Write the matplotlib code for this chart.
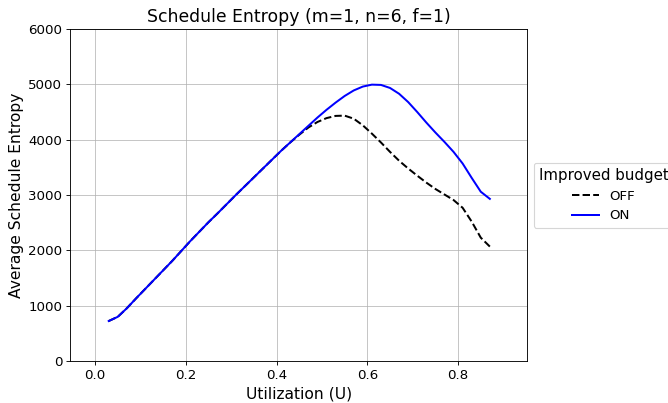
import matplotlib
matplotlib.use('Agg')
import matplotlib.pyplot as plt

# utilization samples
util = [0.03, 0.05, 0.07, 0.09, 0.11, 0.13, 0.15, 0.17, 0.19, 0.21, 0.23, 0.25,
        0.27, 0.29, 0.31, 0.33, 0.35, 0.37, 0.39, 0.41, 0.43, 0.45, 0.47, 0.49,
        0.51, 0.53, 0.55, 0.57, 0.59, 0.61, 0.63, 0.65, 0.67, 0.69, 0.71, 0.73,
        0.75, 0.77, 0.79, 0.81, 0.83, 0.85, 0.87]

entropy_on = [724, 800, 955, 1130, 1300, 1470, 1640, 1810, 1990, 2170, 2340, 2510,
              2670, 2835, 3000, 3160, 3320, 3480, 3640, 3800, 3950, 4100, 4250, 4400,
              4540, 4670, 4790, 4890, 4960, 4995, 4990, 4935, 4830, 4680, 4500, 4310,
              4130, 3960, 3780, 3570, 3310, 3060, 2931]

entropy_off = [724, 800, 955, 1130, 1300, 1470, 1640, 1810, 1990, 2170, 2340, 2510,
               2670, 2835, 3000, 3160, 3320, 3480, 3640, 3800, 3950, 4090, 4220, 4320,
               4390, 4430, 4435, 4380, 4260, 4110, 3950, 3780, 3620, 3480, 3350, 3225,
               3110, 3010, 2910, 2770, 2520, 2230, 2069]

fig = plt.figure(figsize=(8.35, 5.0375), dpi=80)
ax = fig.add_axes([0.105, 0.104, 0.684, 0.824])

ax.plot(util, entropy_off, color='black', linestyle='--', linewidth=1.8, label='OFF')
ax.plot(util, entropy_on, color='blue', linewidth=1.8, label='ON')

ax.set_xlim(-0.055, 0.952)
ax.set_ylim(0, 6000)
ax.set_xticks([0.0, 0.2, 0.4, 0.6, 0.8])
ax.set_yticks(range(0, 6001, 1000))
ax.tick_params(labelsize=12)
ax.grid(True, color='#b0b0b0', alpha=0.8, linewidth=0.8)

ax.set_title('Schedule Entropy (m=1, n=6, f=1)', fontsize=15.5)
ax.set_xlabel('Utilization (U)', fontsize=14)
ax.set_ylabel('Average Schedule Entropy', fontsize=14)

ax.legend(title='Improved budget', loc='center left', bbox_to_anchor=(1.0, 0.5),
          fontsize=12, title_fontsize=13.5)

fig.savefig('out.png', dpi=80)
